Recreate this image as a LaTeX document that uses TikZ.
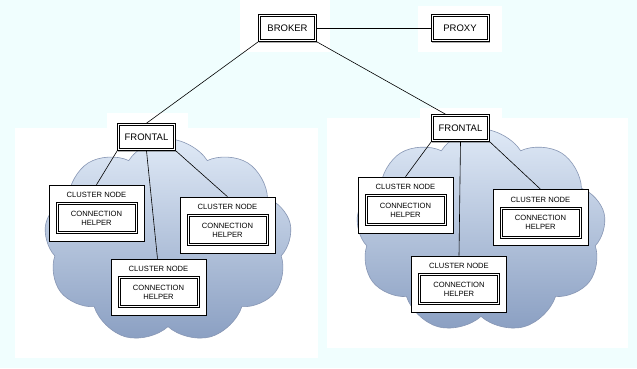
\documentclass[tikz,border=0pt]{standalone}
\usepackage{fontspec}
\setmainfont{Liberation Sans}
\usetikzlibrary{shapes.symbols,shadows}
\definecolor{bgc}{HTML}{F0FEFE}
\definecolor{cloudtop}{HTML}{DFE9F6}
\definecolor{cloudbot}{HTML}{8A9FC2}
\definecolor{cloudline}{HTML}{8796B4}
\tikzset{
  dbox/.style={draw=black, line width=0.6pt, fill=white, inner sep=0pt,
    drop shadow={shadow xshift=0.8pt, shadow yshift=-1.8pt, opacity=0.45, fill=black!70}},
  topbox/.style={dbox, minimum width=58pt, minimum height=27pt, font=\fontsize{9.5}{10}\selectfont},
  outerbox/.style={draw=black, line width=0.6pt, fill=white, minimum width=95pt, minimum height=56pt, inner sep=0pt},
  helperbox/.style={draw=black, line width=0.6pt, fill=white, minimum width=81pt, minimum height=31pt, inner sep=0pt, align=center, font=\fontsize{7.6}{9}\selectfont},
  innerline/.style={draw=black, line width=0.6pt},
  lbl/.style={font=\fontsize{7.6}{9}\selectfont, inner sep=0pt},
  cloudy/.style={cloud, cloud puffs=9, cloud puff arc=115, aspect=1.3, draw=cloudline, line width=0.6pt, top color=cloudtop, bottom color=cloudbot, inner sep=0pt},
  conn/.style={draw=black, line width=0.6pt},
  clusterpic/.pic={
    \node[outerbox] (-box) at (0,0) {};
    \node[lbl] (-lab) at (0,-18) {CLUSTER NODE};
    \node[helperbox] (-help) at (0,5) {CONNECTION\\HELPER};
    \draw[innerline] ([xshift=2.2pt,yshift=-2.2pt]-help.north west) rectangle ([xshift=-2.2pt,yshift=2.2pt]-help.south east);
  }
}
\begin{document}
\begin{tikzpicture}[x=1pt,y=-1pt]
\useasboundingbox (0,0) rectangle (637,368);
\fill[bgc] (0,0) rectangle (637,368);
% white panels
\fill[white] (240,0) rectangle (330,52);
\fill[white] (418,6) rectangle (502,52);
\fill[white] (15,128) rectangle (318,358);
\fill[white] (107,113) rectangle (188,128);
\fill[white] (327,118) rectangle (628,348);
\fill[white] (420,108) rectangle (502,118);
% clouds
\node[cloudy, minimum width=248pt, minimum height=204pt] (lcloud) at (168,241) {};
\node[cloudy, minimum width=250pt, minimum height=204pt] (rcloud) at (481,231) {};
% top nodes
\node[topbox] (broker) at (287.5,28) {BROKER};
\node[topbox] (proxy) at (460,28) {PROXY};
\node[topbox] (lfront) at (146.5,137) {FRONTAL};
\node[topbox] (rfront) at (460.5,128) {FRONTAL};
\foreach \n in {broker,proxy,lfront,rfront}{
  \draw[innerline] ([xshift=2.4pt,yshift=-2.4pt]\n.north west) rectangle ([xshift=-2.4pt,yshift=2.4pt]\n.south east);
}
% clusters
\pic (L1) at (96.5,213) {clusterpic};
\pic (L2) at (227.5,225) {clusterpic};
\pic (L3) at (158.5,287) {clusterpic};
\pic (R1) at (405.5,205) {clusterpic};
\pic (R2) at (540.5,217.5) {clusterpic};
\pic (R3) at (459,284) {clusterpic};
% connectors
\draw[conn] (broker.east) -- (proxy.west);
\draw[conn] (broker.south west) -- (lfront.north);
\draw[conn] (broker.south east) -- ([xshift=-15pt]rfront.north);
\draw[conn] (lfront.south west) -- (L1-box.north);
\draw[conn] (lfront.south) -- ([xshift=-1pt]L3-box.north);
\draw[conn] (lfront.south east) -- (L2-box.north);
\draw[conn] (rfront.south west) -- (R1-box.north);
\draw[conn] (rfront.south) -- (R3-box.north);
\draw[conn] (rfront.south east) -- (R2-box.north);
\end{tikzpicture}
\end{document}
